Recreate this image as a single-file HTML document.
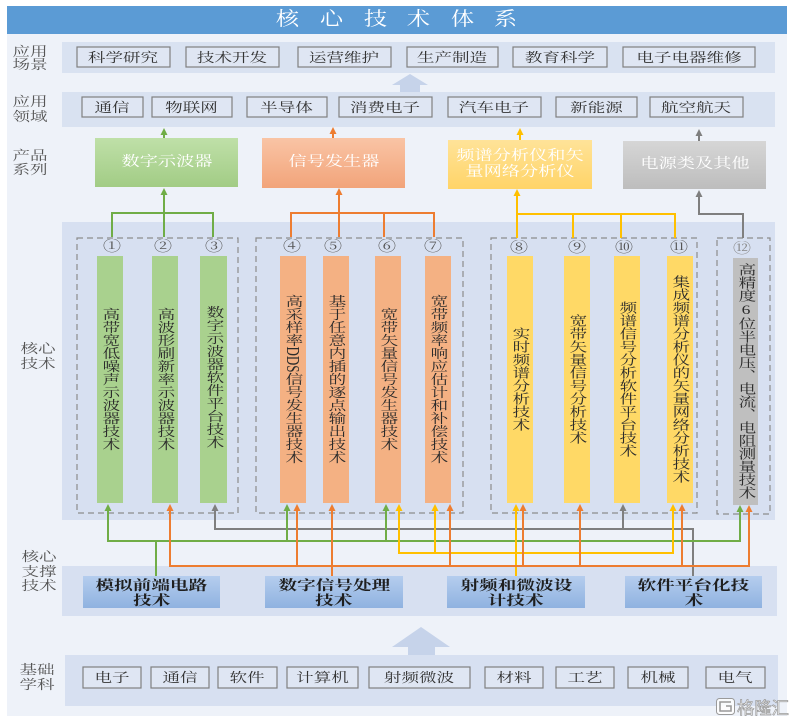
<!DOCTYPE html>
<html><head><meta charset="utf-8">
<style>
html,body{margin:0;padding:0;background:#fff;}
body{width:795px;height:725px;position:relative;overflow:hidden;font-family:"Liberation Serif","Noto Serif CJK SC",serif;}
svg{position:absolute;left:0;top:0;}
.t{position:absolute;text-align:center;white-space:nowrap;line-height:1;font-size:13px;color:#333;}
.t span{display:inline-block;transform:scaleX(1.35);}
.lab{color:#555;}
.p{font-size:14px;color:#fff;}
.p span{transform:scaleX(1.3);}
.s{font-size:13.8px;color:#1f1f1f;font-weight:bold;}
.n{font-size:14px;color:#555;}
.n span{transform:scaleX(1.3);}
.ttl{font-size:19px;color:#fff;}
.ttl span{transform:scaleX(1.22);}
.v{position:absolute;writing-mode:vertical-rl;font-size:13px;line-height:1;color:#2b2b2b;transform:translate(-50%,-50%) scaleX(1.35);white-space:nowrap;}
</style></head><body>
<svg width="795" height="725" viewBox="0 0 795 725">
<defs>
<linearGradient id="gG" x1="0" y1="0" x2="0" y2="1"><stop offset="0" stop-color="#bfe0a8"/><stop offset="1" stop-color="#a2cc85"/></linearGradient>
<linearGradient id="gO" x1="0" y1="0" x2="0" y2="1"><stop offset="0" stop-color="#f9c4a5"/><stop offset="1" stop-color="#f2a47a"/></linearGradient>
<linearGradient id="gY" x1="0" y1="0" x2="0" y2="1"><stop offset="0" stop-color="#ffe399"/><stop offset="1" stop-color="#ffd468"/></linearGradient>
<linearGradient id="gR" x1="0" y1="0" x2="0" y2="1"><stop offset="0" stop-color="#d6d6d6"/><stop offset="1" stop-color="#bdbdbd"/></linearGradient>
<linearGradient id="gB" x1="0" y1="0" x2="0" y2="1"><stop offset="0" stop-color="#b5cdee"/><stop offset="1" stop-color="#8fb2e0"/></linearGradient>
</defs>
<rect x="7" y="6" width="780" height="710" fill="#eef2f9"/>
<rect x="7" y="6" width="780" height="28" fill="#5b9bd5"/>
<!-- row 1 -->
<rect x="62" y="42" width="713" height="31" fill="#d9e2f1"/>
<g fill="#dfe6f3" stroke="#808080" stroke-width="1.2">
<rect x="77" y="47" width="93" height="20"/>
<rect x="186" y="47" width="93" height="20"/>
<rect x="298" y="47" width="93" height="20"/>
<rect x="407" y="47" width="91" height="20"/>
<rect x="513" y="47" width="94" height="20"/>
<rect x="623" y="47" width="132" height="20"/>
</g>
<polygon points="410,74 428,85 420,85 420,92 400,92 400,85 392,85" fill="#c6d3ea"/>
<!-- row 2 -->
<rect x="62" y="92" width="713" height="35" fill="#d9e2f1"/>
<g fill="#dfe6f3" stroke="#808080" stroke-width="1.2">
<rect x="82" y="97" width="61" height="20"/>
<rect x="152" y="97" width="80" height="20"/>
<rect x="247" y="97" width="80" height="20"/>
<rect x="339" y="97" width="93" height="20"/>
<rect x="448" y="97" width="93" height="20"/>
<rect x="556" y="97" width="81" height="20"/>
<rect x="650" y="97" width="93" height="20"/>
</g>
<!-- products -->
<rect x="95" y="138" width="143" height="49" fill="url(#gG)"/>
<rect x="262" y="138" width="143" height="50" fill="url(#gO)"/>
<rect x="448" y="140" width="144" height="49" fill="url(#gY)"/>
<rect x="623" y="141" width="143" height="48" fill="url(#gR)"/>
<!-- product to row2 arrows -->
<g stroke-width="2" fill="none">
<line x1="164" y1="138" x2="164" y2="133" stroke="#70ad47"/>
<line x1="333" y1="138" x2="333" y2="132" stroke="#ed7d31"/>
<line x1="520" y1="140" x2="520" y2="133" stroke="#ffc000"/>
<line x1="699" y1="141" x2="699" y2="134" stroke="#7f7f7f"/>
</g>
<polygon points="164,128 160.5,135 167.5,135" fill="#70ad47"/>
<polygon points="333,127 329.5,134 336.5,134" fill="#ed7d31"/>
<polygon points="520,128 516.5,135 523.5,135" fill="#ffc000"/>
<polygon points="699,129 695.5,136 702.5,136" fill="#7f7f7f"/>
<!-- core band -->
<rect x="62" y="222" width="713" height="298" fill="#d7e0f1"/>
<g fill="none" stroke="#8c8c8c" stroke-width="1.2" stroke-dasharray="6 4">
<rect x="77" y="238" width="161" height="275"/>
<rect x="256" y="238" width="207" height="275"/>
<rect x="491" y="238" width="206" height="275"/>
<rect x="717" y="238" width="53" height="276"/>
</g>
<!-- bars -->
<g>
<rect x="97" y="256" width="26" height="247" fill="#a9d18e"/>
<rect x="152" y="256" width="26" height="247" fill="#a9d18e"/>
<rect x="200" y="256" width="27" height="247" fill="#a9d18e"/>
<rect x="280" y="256" width="26" height="247" fill="#f4b183"/>
<rect x="323" y="256" width="26" height="247" fill="#f4b183"/>
<rect x="375" y="256" width="26" height="247" fill="#f4b183"/>
<rect x="425" y="256" width="26" height="247" fill="#f4b183"/>
<rect x="507" y="256" width="26" height="247" fill="#ffd966"/>
<rect x="564" y="256" width="26" height="247" fill="#ffd966"/>
<rect x="614" y="256" width="26" height="247" fill="#ffd966"/>
<rect x="667" y="256" width="26" height="247" fill="#ffd966"/>
<rect x="733" y="258" width="25" height="247" fill="#bfbfbf"/>
</g>
<!-- top connectors -->
<g fill="none" stroke-width="2">
<path d="M164,194 V213 M112,237 V213 H213 V237 M164,213 V237" stroke="#70ad47"/>
<path d="M339,194 V213 M291,237 V213 H434 V237 M339,213 V237 M384,213 V237" stroke="#ed7d31"/>
<path d="M517,195 V214 M517,238 V214 H675 V238 M573,214 V238 M621,214 V238" stroke="#ffc000"/>
<path d="M699,197 V214 H743 V238" stroke="#7f7f7f"/>
</g>
<polygon points="164,188 160.5,195 167.5,195" fill="#70ad47"/>
<polygon points="339,188 335.5,195 342.5,195" fill="#ed7d31"/>
<polygon points="517,189 513.5,196 520.5,196" fill="#ffc000"/>
<polygon points="699,190 695.5,197 702.5,197" fill="#7f7f7f"/>
<!-- support band -->
<rect x="62" y="566" width="715" height="50" fill="#d7e0f1"/>
<rect x="83" y="576" width="137" height="32" fill="url(#gB)"/>
<rect x="265" y="576" width="138" height="32" fill="url(#gB)"/>
<rect x="447" y="576" width="138" height="32" fill="url(#gB)"/>
<rect x="625" y="576" width="137" height="32" fill="url(#gB)"/>
<!-- bottom connectors -->
<g fill="none" stroke-width="2">
<path d="M215,509 V529 H693 V576 M623,509 V529" stroke="#7f7f7f"/>
<path d="M108,509 V541 H740 V510 M156,541 V576 M287,541 V509 M386,541 V509" stroke="#70ad47"/>
<path d="M399,509 V553 H673 V509 M435,553 V509 M516,509 V576" stroke="#ffc000"/>
<path d="M170,509 V566 H749 V510 M297,566 V509 M332,509 V576 M450,566 V509 M523,566 V509 M580,566 V509 M682,566 V509" stroke="#ed7d31"/>
</g>
<g fill="#7f7f7f">
<polygon points="215,504 211.5,511 218.5,511"/>
<polygon points="623,504 619.5,511 626.5,511"/>
</g>
<g fill="#70ad47">
<polygon points="108,504 104.5,511 111.5,511"/>
<polygon points="287,504 283.5,511 290.5,511"/>
<polygon points="386,504 382.5,511 389.5,511"/>
<polygon points="740,505 736.5,512 743.5,512"/>
</g>
<g fill="#ffc000">
<polygon points="399,504 395.5,511 402.5,511"/>
<polygon points="435,504 431.5,511 438.5,511"/>
<polygon points="516,504 512.5,511 519.5,511"/>
<polygon points="673,504 669.5,511 676.5,511"/>
</g>
<g fill="#ed7d31">
<polygon points="170,504 166.5,511 173.5,511"/>
<polygon points="297,504 293.5,511 300.5,511"/>
<polygon points="332,504 328.5,511 335.5,511"/>
<polygon points="450,504 446.5,511 453.5,511"/>
<polygon points="523,504 519.5,511 526.5,511"/>
<polygon points="580,504 576.5,511 583.5,511"/>
<polygon points="682,504 678.5,511 685.5,511"/>
<polygon points="749,505 745.5,512 752.5,512"/>
</g>
<!-- bottom arrow & band -->
<polygon points="421,627 450,647 435,647 435,655 408,655 408,647 392,647" fill="#c6d3ea"/>
<rect x="65" y="655" width="713" height="51" fill="#d7e0f1"/>
<g fill="#dfe6f3" stroke="#808080" stroke-width="1.2">
<rect x="83" y="667" width="58" height="21"/>
<rect x="151" y="667" width="58" height="21"/>
<rect x="218" y="667" width="59" height="21"/>
<rect x="287" y="667" width="71" height="21"/>
<rect x="369" y="667" width="101" height="21"/>
<rect x="485" y="667" width="58" height="21"/>
<rect x="556" y="667" width="58" height="21"/>
<rect x="628" y="667" width="60" height="21"/>
<rect x="706" y="667" width="59" height="21"/>
</g>
<!-- watermark -->
<rect x="716.5" y="698.5" width="18" height="16" rx="3" fill="#ffffff" fill-opacity="0.85" stroke="#9a9a9a" stroke-width="1"/>
<path d="M731,702 H720 V711 H731 V706 H726" fill="none" stroke="#9a9a9a" stroke-width="1.6"/>
<text x="737" y="714" font-family="Liberation Sans, Noto Sans CJK SC, sans-serif" font-size="17" fill="#ffffff" stroke="#9a9a9a" stroke-width="0.7" textLength="52" lengthAdjust="spacingAndGlyphs">格隆汇</text>
</svg>

<!-- title -->
<div class="t ttl" style="left:268px;top:10px;width:40px"><span>核</span></div>
<div class="t ttl" style="left:312px;top:10px;width:40px"><span>心</span></div>
<div class="t ttl" style="left:356px;top:10px;width:40px"><span>技</span></div>
<div class="t ttl" style="left:399px;top:10px;width:40px"><span>术</span></div>
<div class="t ttl" style="left:443px;top:10px;width:40px"><span>体</span></div>
<div class="t ttl" style="left:486px;top:10px;width:40px"><span>系</span></div>

<!-- left labels -->
<div class="t lab" style="left:10px;top:44.5px;width:40px"><span>应用</span></div>
<div class="t lab" style="left:10px;top:58px;width:40px"><span>场景</span></div>
<div class="t lab" style="left:10px;top:94.5px;width:40px"><span>应用</span></div>
<div class="t lab" style="left:10px;top:109.5px;width:40px"><span>领域</span></div>
<div class="t lab" style="left:10px;top:148.5px;width:40px"><span>产品</span></div>
<div class="t lab" style="left:10px;top:162.5px;width:40px"><span>系列</span></div>
<div class="t lab" style="left:18px;top:341.5px;width:40px"><span>核心</span></div>
<div class="t lab" style="left:18px;top:356.5px;width:40px"><span>技术</span></div>
<div class="t lab" style="left:19px;top:549.5px;width:40px"><span>核心</span></div>
<div class="t lab" style="left:19px;top:564.5px;width:40px"><span>支撑</span></div>
<div class="t lab" style="left:19px;top:578.5px;width:40px"><span>技术</span></div>
<div class="t lab" style="left:17px;top:662.5px;width:40px"><span>基础</span></div>
<div class="t lab" style="left:17px;top:677.5px;width:40px"><span>学科</span></div>

<!-- row 1 -->
<div class="t" style="left:77px;top:50.5px;width:93px"><span>科学研究</span></div>
<div class="t" style="left:186px;top:50.5px;width:93px"><span>技术开发</span></div>
<div class="t" style="left:298px;top:50.5px;width:93px"><span>运营维护</span></div>
<div class="t" style="left:407px;top:50.5px;width:91px"><span>生产制造</span></div>
<div class="t" style="left:513px;top:50.5px;width:94px"><span>教育科学</span></div>
<div class="t" style="left:623px;top:50.5px;width:132px"><span>电子电器维修</span></div>

<!-- row 2 -->
<div class="t" style="left:82px;top:100.5px;width:61px"><span>通信</span></div>
<div class="t" style="left:152px;top:100.5px;width:80px"><span>物联网</span></div>
<div class="t" style="left:247px;top:100.5px;width:80px"><span>半导体</span></div>
<div class="t" style="left:339px;top:100.5px;width:93px"><span>消费电子</span></div>
<div class="t" style="left:448px;top:100.5px;width:93px"><span>汽车电子</span></div>
<div class="t" style="left:556px;top:100.5px;width:81px"><span>新能源</span></div>
<div class="t" style="left:650px;top:100.5px;width:93px"><span>航空航天</span></div>

<!-- products -->
<div class="t p" style="left:95px;top:156px;width:143px"><span>数字示波器</span></div>
<div class="t p" style="left:262px;top:156px;width:143px"><span>信号发生器</span></div>
<div class="t p" style="left:448px;top:150px;width:144px"><span>频谱分析仪和矢</span></div>
<div class="t p" style="left:448px;top:166px;width:144px"><span>量网络分析仪</span></div>
<div class="t p" style="left:623px;top:158px;width:143px"><span>电源类及其他</span></div>

<!-- circled numbers -->
<div class="t n" style="left:92px;top:241px;width:40px"><span>①</span></div>
<div class="t n" style="left:143px;top:241px;width:40px"><span>②</span></div>
<div class="t n" style="left:194px;top:241px;width:40px"><span>③</span></div>
<div class="t n" style="left:272px;top:241px;width:40px"><span>④</span></div>
<div class="t n" style="left:313px;top:241px;width:40px"><span>⑤</span></div>
<div class="t n" style="left:367px;top:241px;width:40px"><span>⑥</span></div>
<div class="t n" style="left:413px;top:241px;width:40px"><span>⑦</span></div>
<div class="t n" style="left:499px;top:242px;width:40px"><span>⑧</span></div>
<div class="t n" style="left:557px;top:242px;width:40px"><span>⑨</span></div>
<div class="t n" style="left:604px;top:242px;width:40px"><span>⑩</span></div>
<div class="t n" style="left:659px;top:242px;width:40px"><span>⑪</span></div>
<div class="t n" style="left:722px;top:243px;width:40px;color:#888"><span>⑫</span></div>

<!-- bar texts -->
<div class="v" style="left:110px;top:379px">高带宽低噪声示波器技术</div>
<div class="v" style="left:165px;top:379px">高波形刷新率示波器技术</div>
<div class="v" style="left:213.5px;top:377px">数字示波器软件平台技术</div>
<div class="v" style="left:293px;top:379px">高采样率DDS信号发生器技术</div>
<div class="v" style="left:336px;top:379px">基于任意内插的逐点输出技术</div>
<div class="v" style="left:388px;top:379px">宽带矢量信号发生器技术</div>
<div class="v" style="left:438px;top:379px">宽带频率响应估计和补偿技术</div>
<div class="v" style="left:520px;top:379px">实时频谱分析技术</div>
<div class="v" style="left:577px;top:379px">宽带矢量信号分析技术</div>
<div class="v" style="left:627px;top:379px">频谱信号分析软件平台技术</div>
<div class="v" style="left:680px;top:379px">集成频谱分析仪的矢量网络分析技术</div>
<div class="v" style="left:745.5px;top:381px">高精度<span style="text-orientation:upright">6</span>位半电压、电流、电阻测量技术</div>

<!-- support texts -->
<div class="t s" style="left:83px;top:578.5px;width:137px"><span>模拟前端电路</span></div>
<div class="t s" style="left:83px;top:593.5px;width:137px"><span>技术</span></div>
<div class="t s" style="left:265px;top:578.5px;width:138px"><span>数字信号处理</span></div>
<div class="t s" style="left:265px;top:593.5px;width:138px"><span>技术</span></div>
<div class="t s" style="left:447px;top:578.5px;width:138px"><span>射频和微波设</span></div>
<div class="t s" style="left:447px;top:593.5px;width:138px"><span>计技术</span></div>
<div class="t s" style="left:625px;top:578.5px;width:137px"><span>软件平台化技</span></div>
<div class="t s" style="left:625px;top:593.5px;width:137px"><span>术</span></div>

<!-- bottom row -->
<div class="t" style="left:83px;top:671px;width:58px"><span>电子</span></div>
<div class="t" style="left:151px;top:671px;width:58px"><span>通信</span></div>
<div class="t" style="left:218px;top:671px;width:59px"><span>软件</span></div>
<div class="t" style="left:287px;top:671px;width:71px"><span>计算机</span></div>
<div class="t" style="left:369px;top:671px;width:101px"><span>射频微波</span></div>
<div class="t" style="left:485px;top:671px;width:58px"><span>材料</span></div>
<div class="t" style="left:556px;top:671px;width:58px"><span>工艺</span></div>
<div class="t" style="left:628px;top:671px;width:60px"><span>机械</span></div>
<div class="t" style="left:706px;top:671px;width:59px"><span>电气</span></div>
</body></html>
